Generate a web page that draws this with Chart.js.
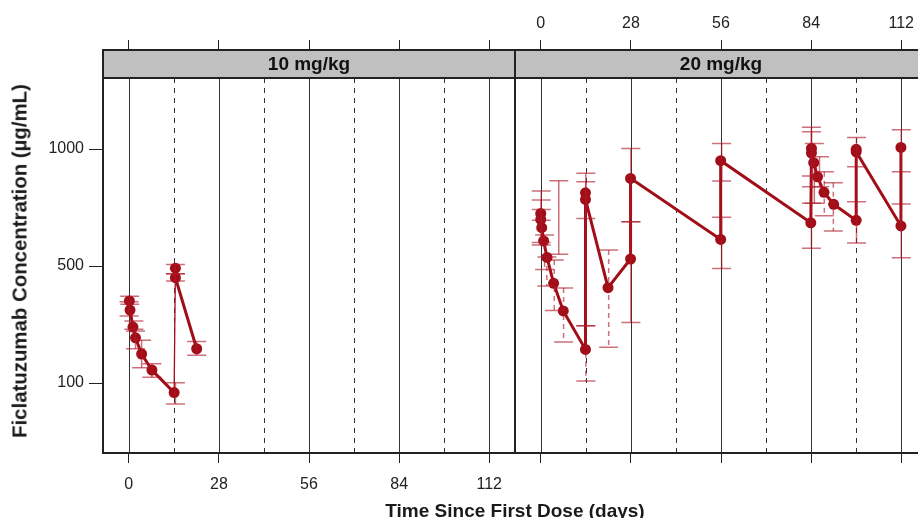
<!DOCTYPE html>
<html>
<head>
<meta charset="utf-8">
<script src="https://cdn.jsdelivr.net/npm/chart.js@4"></script>
<style>
  html, body { margin: 0; padding: 0; background: #fff; overflow: hidden; width: 918px; height: 518px; }
  .box { position: absolute; top: 0; height: 518px; }
  #xtitle { position: absolute; left: 0; width: 1030px; top: 500px; line-height: 19px; text-align: center;
            font: bold 19px "Liberation Sans", Arial, sans-serif; color: #1a1a1a; white-space: nowrap; }
  #ytitle { position: absolute; left: 20px; top: 261px; transform: translate(-50%, -50%) rotate(-90deg);
            font: bold 20.4px "Liberation Sans", Arial, sans-serif; color: #1a1a1a; white-space: nowrap; }
</style>
</head>
<body>
<div class="box" style="left:0;width:517px"><canvas id="left" width="517" height="518"></canvas></div>
<div class="box" style="left:513px;width:414px"><canvas id="right" width="414" height="518"></canvas></div>
<div id="ytitle">Ficlatuzumab Concentration (µg/mL)</div>
<div id="xtitle">Time Since First Dose (days)</div>
<script>
const dayTicks = [0, 28, 56, 84, 112];
const doseDays = [14, 42, 70, 98];
const yTicks = [100, 500, 1000];

// 10 mg/kg panel: mean concentration profile
const days10 = [0.2, 0.4, 1.3, 2.1, 4, 7.2, 14.1, 14.5, 14.5, 21.1];
const conc10 = [371, 339, 280, 244, 191, 140, 71, 492, 456, 208];
// 10 mg/kg error bars
const barDays10 = [0.3, 0.1, 1.6, 2.1, 4, 7.2, 14.5, 14.5, 14.5, 21.1];
const barHi10 = [388, 368, 301, 267, 236, 160, 101, 506, 471, 232];
const barLo10 = [359, 318, 273, 208, 147, 118, 37, 471, 444, 187];
const barDash10 = [0, 0, 0, 0, 0, 0, 0, 0, 0, 0];

// 20 mg/kg panel
const days20 = [0, 0, 0.3, 0.9, 1.95, 4, 7, 13.9, 13.9, 13.9, 20.9, 27.9, 27.9, 55.9, 55.9,
                83.9, 84.1, 84.1, 84.8, 86, 88, 91, 98, 98, 98, 111.9, 111.9];
const conc20 = [711, 686, 652, 598, 533, 435, 336, 206, 800, 771, 419, 527, 864, 604, 945,
                672, 1003, 981, 936, 871, 802, 750, 682, 999, 987, 659, 1008];
const barDays20 = [0.15, 0.15, 0.15, 5.6, 1.2, 1.9, 4.2, 7.1, 14, 14, 14, 21.1, 28, 28, 56.2, 56.2,
                   84.1, 84.1, 85, 84.1, 86.6, 88.1, 90.9, 98.1, 98.1, 112, 112];
const barHi20 = [808, 768, 728, 853, 622, 535, 523, 418, 887, 849, 285, 562, 676, 1003, 1027, 695,
                 1106, 1084, 1027, 754, 964, 894, 844, 1056, 761, 1094, 751];
const barLo20 = [683, 592, 582, 545, 487, 425, 337, 230, 690, 285, 106, 213, 296, 676, 852, 491,
                 875, 827, 754, 569, 827, 701, 638, 917, 590, 894, 532];
const barDash20 = [0, 0, 0, 0, 1, 1, 1, 1, 0, 0, 1, 1, 0, 0, 0, 0, 0, 0, 0, 0, 0, 1, 1, 0, 0, 0, 0];

// the y axis of the original is compressed: equal steps for 100 -> 500 -> 1000
const toAxis = v => Math.log10(v + 1500);
const fromAxis = t => Math.pow(10, t) - 1500;

const RED = '#a20e17';
const BAR = 'rgba(175, 25, 40, 0.62)';
const FONT = '"Liberation Sans", Arial, sans-serif';
Chart.defaults.font.family = FONT;
Chart.defaults.color = '#222';

const panelPlugin = {
  id: 'panel',
  beforeDatasetsDraw(chart, args, opts) {
    const { ctx, chartArea: a, scales: { x } } = chart;
    const stripBottom = a.top + 28;
    ctx.save();
    ctx.lineWidth = 1;
    ctx.strokeStyle = '#333';
    dayTicks.forEach(d => {
      const px = Math.round(x.getPixelForValue(d)) + 0.5;
      ctx.beginPath(); ctx.moveTo(px, stripBottom); ctx.lineTo(px, a.bottom); ctx.stroke();
    });
    ctx.setLineDash([5, 5]);
    doseDays.forEach(d => {
      const px = Math.round(x.getPixelForValue(d)) + 0.5;
      ctx.beginPath(); ctx.moveTo(px, stripBottom); ctx.lineTo(px, a.bottom); ctx.stroke();
    });
    ctx.setLineDash([]);
    ctx.fillStyle = '#c0c0c0';
    ctx.fillRect(a.left, a.top, a.right - a.left, 28);
    ctx.fillStyle = '#111';
    ctx.font = 'bold 19px ' + FONT;
    ctx.textAlign = 'center';
    ctx.textBaseline = 'middle';
    ctx.fillText(opts.label, (a.left + a.right) / 2, a.top + 15);
    ctx.restore();
  },
  afterDatasetsDraw(chart, args, opts) {
    const { ctx, chartArea: a, scales: { x, y } } = chart;
    ctx.save();
    ctx.beginPath(); ctx.rect(a.left, a.top + 28, a.right - a.left, a.bottom - a.top - 28); ctx.clip();
    ctx.strokeStyle = BAR;
    ctx.lineWidth = 1.5;
    opts.days.forEach((d, i) => {
      const px = x.getPixelForValue(d);
      const hi = y.getPixelForValue(toAxis(opts.hi[i]));
      const lo = y.getPixelForValue(toAxis(opts.lo[i]));
      ctx.setLineDash(opts.dash[i] ? [5, 4] : []);
      ctx.beginPath(); ctx.moveTo(px, hi); ctx.lineTo(px, lo); ctx.stroke();
      ctx.setLineDash([]);
      ctx.beginPath();
      ctx.moveTo(px - 9.5, hi); ctx.lineTo(px + 9.5, hi);
      ctx.moveTo(px - 9.5, lo); ctx.lineTo(px + 9.5, lo);
      ctx.stroke();
    });
    ctx.restore();
  },
  afterDraw(chart) {
    const { ctx, chartArea: a } = chart;
    ctx.save();
    ctx.strokeStyle = '#222';
    ctx.lineWidth = 2;
    ctx.strokeRect(a.left, a.top, a.right - a.left, a.bottom - a.top);
    ctx.beginPath(); ctx.moveTo(a.left, a.top + 28); ctx.lineTo(a.right, a.top + 28); ctx.stroke();
    ctx.restore();
  }
};

function xAxis(position, height, showLabels) {
  return {
    type: 'linear', position, min: -8, max: 120,
    afterBuildTicks: s => { s.ticks = dayTicks.map(v => ({ value: v })); },
    afterFit: s => { s.height = height; s.paddingLeft = 0; s.paddingRight = 0; },
    ticks: { callback: v => showLabels ? String(v) : '', padding: position === 'top' ? 7 : 12,
             font: { size: 16 }, color: '#222', maxRotation: 0, autoSkip: false },
    grid: { drawOnChartArea: false, drawTicks: true, tickLength: 10, tickColor: '#222', tickWidth: 1 },
    border: { display: false }
  };
}

function yAxis(show) {
  return {
    type: 'linear', display: show, min: toAxis(-100), max: toAxis(1520),
    afterBuildTicks: s => { s.ticks = yTicks.map(v => ({ value: toAxis(v) })); },
    afterFit: s => { s.width = show ? 103 : 0; s.paddingTop = 0; s.paddingBottom = 0; },
    ticks: { callback: v => String(Math.round(fromAxis(v))), padding: 5, font: { size: 16 }, color: '#222' },
    grid: { drawOnChartArea: false, drawTicks: true, tickLength: 14, tickColor: '#222', tickWidth: 1 },
    border: { display: false }
  };
}

function makePanel(id, label, days, conc, bars, thinFrom, bottomLabels, showY, padding) {
  return new Chart(document.getElementById(id), {
    type: 'line',
    data: {
      datasets: [{
        data: days.map((d, i) => ({ x: d, y: toAxis(conc[i]) })),
        borderColor: RED,
        backgroundColor: RED,
        borderWidth: 3,
        pointRadius: 5.5,
        pointBorderWidth: 0,
        tension: 0,
        segment: { borderWidth: c => c.p0DataIndex === thinFrom ? 1.3 : 3 }
      }]
    },
    options: {
      responsive: false,
      animation: false,
      layout: { padding, autoPadding: false },
      plugins: {
        legend: { display: false },
        tooltip: { enabled: false },
        panel: { label, ...bars }
      },
      scales: {
        x: xAxis('bottom', 65, bottomLabels),
        xTop: xAxis('top', 50, !bottomLabels),
        y: yAxis(showY)
      }
    },
    plugins: [panelPlugin]
  });
}

makePanel('left', '10 mg/kg', days10, conc10,
  { days: barDays10, hi: barHi10, lo: barLo10, dash: barDash10 }, 6, true, true, { right: 2 });
makePanel('right', '20 mg/kg', days20, conc20,
  { days: barDays20, hi: barHi20, lo: barLo20, dash: barDash20 }, -1, false, false, { left: 2 });
</script>
</body>
</html>
